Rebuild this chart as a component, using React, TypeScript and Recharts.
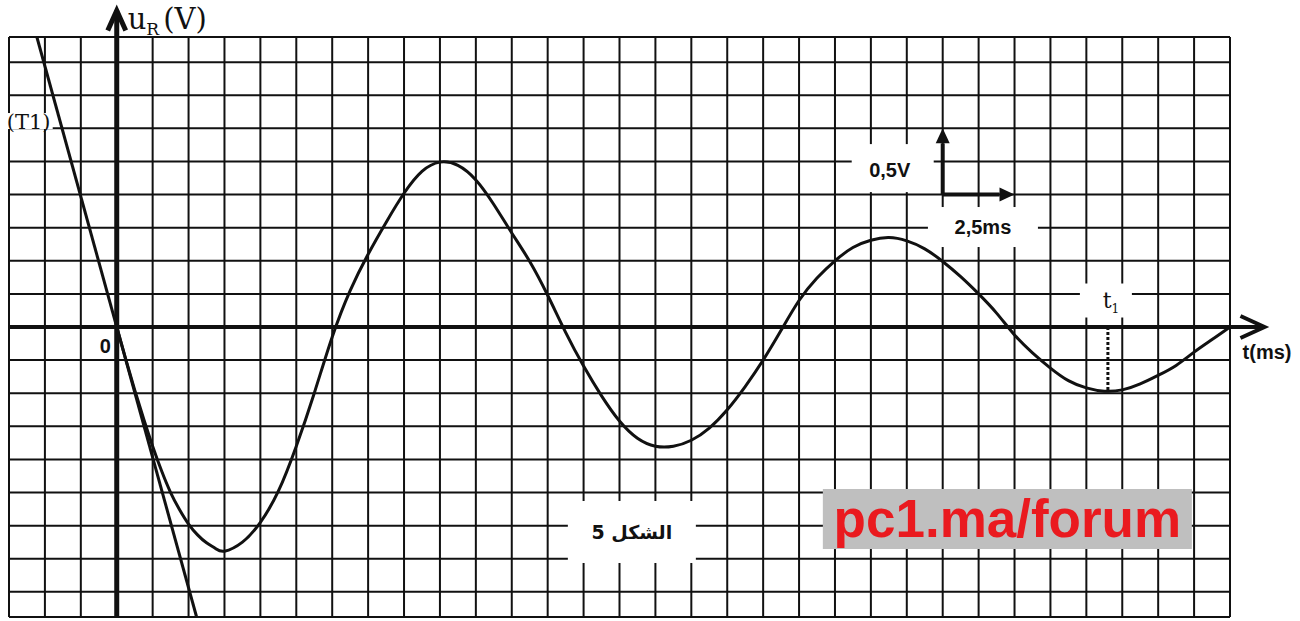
import React from "react";
import {
  ComposedChart,
  Line,
  XAxis,
  YAxis,
  ReferenceLine,
  ReferenceDot,
} from "recharts";

// u_R(t) (t in ms, u in V)
const T_MS = [
  0, 0.313, 0.625, 0.938, 1.25, 1.563, 1.875, 2.188, 2.5, 2.813, 3.125, 3.438, 3.75, 4.375,
  5, 5.625, 6.25, 6.875, 7.5, 8.125, 8.75, 9.375, 10, 10.625, 11.25, 11.875, 12.5, 13.125,
  13.75, 14.375, 15, 15.625, 16.25, 16.875, 17.5, 18.125, 18.75, 19.375, 20, 20.625, 21.25,
  21.875, 22.5, 23.125, 23.75, 24.375, 25, 25.625, 26.25, 26.875, 27.5, 28.125, 28.75,
  29.375, 30, 30.625, 31.25, 31.875, 32.5, 33.125, 33.75, 34.375, 35, 35.625, 36.25, 36.875,
  37.5, 38.125, 38.75,
];
const U_R = [
  0, -0.243, -0.475, -0.695, -0.9, -1.088, -1.25, -1.38, -1.488, -1.57, -1.63, -1.673,
  -1.693, -1.625, -1.475, -1.24, -0.9, -0.5, -0.075, 0.275, 0.55, 0.79, 1.01, 1.175, 1.245,
  1.22, 1.11, 0.925, 0.71, 0.495, 0.24, -0.04, -0.295, -0.52, -0.71, -0.84, -0.9, -0.9,
  -0.855, -0.763, -0.625, -0.45, -0.25, -0.025, 0.2, 0.37, 0.5, 0.6, 0.655, 0.675, 0.65,
  0.59, 0.495, 0.38, 0.25, 0.105, -0.06, -0.195, -0.31, -0.405, -0.46, -0.485, -0.475, -0.43,
  -0.365, -0.29, -0.19, -0.095, 0,
];

// tangent (T1) at the origin, clipped by the paper
const TANGENT_T = [-2.78, 2.78];
const TANGENT_U = [2.19, -2.19];

// t1 marker
const T1_MS = 34.5;
const U_AT_T1 = -0.485;

// scale indicator: 1 arrow = 0.5 V / 2.5 ms
const SCALE_ORIGIN = { t: 28.75, u: 1.0 };
const SCALE_V = 0.5;
const SCALE_MS = 2.5;

// paper: 1 square = 1.25 ms x 0.25 V
const T_MIN = -3.75;
const T_MAX = 38.75;
const U_LIM = 2.19;
const X_GRID = Array.from({ length: 35 }, (_, i) => T_MIN + 1.25 * i);
const Y_GRID = [-U_LIM, ...Array.from({ length: 17 }, (_, i) => -2 + 0.25 * i), U_LIM];

const curve = T_MS.map((t, i) => ({ t, u: U_R[i] }));
const tangent = TANGENT_T.map((t, i) => ({ t, u: TANGENT_U[i] }));

const SANS = "'Liberation Sans', Arial, sans-serif";
const SERIF = "'DejaVu Serif', 'Liberation Serif', serif";
const ARABIC = "'DejaVu Sans', 'Liberation Sans', sans-serif";
const INK = "#111";

const arrowShape =
  (kind: "chevron" | "filled", len: number, half: number) => (p: any) => {
    const { x1, y1, x2, y2 } = p;
    const a = Math.atan2(y2 - y1, x2 - x1);
    const bx = x2 - len * Math.cos(a);
    const by = y2 - len * Math.sin(a);
    const nx = -Math.sin(a) * half;
    const ny = Math.cos(a) * half;
    const sw = p.strokeWidth;
    if (kind === "filled") {
      return (
        <g>
          <line x1={x1} y1={y1} x2={bx} y2={by} stroke={INK} strokeWidth={sw} />
          <polygon points={`${x2},${y2} ${bx + nx},${by + ny} ${bx - nx},${by - ny}`} fill={INK} />
        </g>
      );
    }
    return (
      <g>
        <line x1={x1} y1={y1} x2={x2} y2={y2} stroke={INK} strokeWidth={sw} />
        <polyline
          points={`${bx + nx},${by + ny} ${x2},${y2} ${bx - nx},${by - ny}`}
          fill="none"
          stroke={INK}
          strokeWidth={sw}
        />
      </g>
    );
  };

const boxed =
  (w: number, h: number, fill: string, content: (cx: number, cy: number) => React.ReactNode) =>
  (p: any) => (
    <g>
      {w > 0 && <rect x={p.cx - w / 2} y={p.cy - h / 2} width={w} height={h} fill={fill} />}
      {content(p.cx, p.cy)}
    </g>
  );

export default function App() {
  return (
    <div style={{ position: "absolute", left: 0, top: 0, width: 1300, height: 621, background: "#fff" }}>
      <ComposedChart width={1300} height={621} margin={{ top: 37, right: 70, bottom: 4, left: 9 }}>
        <XAxis
          dataKey="t"
          type="number"
          domain={[T_MIN, T_MAX]}
          tick={false}
          tickLine={false}
          axisLine={false}
          height={0}
        />
        <YAxis
          type="number"
          domain={[-U_LIM, U_LIM]}
          tick={false}
          tickLine={false}
          axisLine={false}
          width={0}
        />

        {/* graph paper */}
        {X_GRID.map((v) => (
          <ReferenceLine key={`gx${v}`} x={v} stroke={INK} strokeWidth={2} />
        ))}
        {Y_GRID.map((v) => (
          <ReferenceLine key={`gy${v}`} y={v} stroke={INK} strokeWidth={2} />
        ))}

        {/* axes */}
        <ReferenceLine
          segment={[{ x: T_MIN, y: 0 }, { x: 39.95, y: 0 }]}
          ifOverflow="visible"
          stroke={INK}
          strokeWidth={4}
          shape={arrowShape("chevron", 24, 11)}
        />
        <ReferenceLine
          segment={[{ x: 0, y: -U_LIM }, { x: 0, y: 2.39 }]}
          ifOverflow="visible"
          stroke={INK}
          strokeWidth={5}
          shape={arrowShape("chevron", 20, 9)}
        />

        {/* scale arrows */}
        <ReferenceLine
          segment={[
            { x: SCALE_ORIGIN.t, y: SCALE_ORIGIN.u },
            { x: SCALE_ORIGIN.t, y: SCALE_ORIGIN.u + SCALE_V },
          ]}
          ifOverflow="visible"
          stroke={INK}
          strokeWidth={4}
          shape={arrowShape("filled", 15, 7)}
        />
        <ReferenceLine
          segment={[
            { x: SCALE_ORIGIN.t, y: SCALE_ORIGIN.u },
            { x: SCALE_ORIGIN.t + SCALE_MS, y: SCALE_ORIGIN.u },
          ]}
          ifOverflow="visible"
          stroke={INK}
          strokeWidth={4}
          shape={arrowShape("filled", 15, 7)}
        />

        {/* labels */}
        <ReferenceDot
          x={0.38}
          y={2.25}
          ifOverflow="visible"
          shape={boxed(0, 0, "#fff", (x, y) => (
            <text x={x} y={y} fontFamily={SERIF} fill={INK}>
              <tspan fontSize={29}>u</tspan>
              <tspan fontSize={17} dy={6}>R</tspan>
              <tspan fontSize={29} dy={-6} dx={4}>(V)</tspan>
            </text>
          ))}
        />
        <ReferenceDot
          x={-3.83}
          y={1.495}
          ifOverflow="visible"
          shape={boxed(0, 0, "#fff", (x, y) => (
            <g>
              <rect x={x - 1} y={y - 16} width={47} height={16} fill="#fff" />
              <text x={x} y={y} fontFamily={SERIF} fontSize={21} fill={INK}>
                (T1)
              </text>
            </g>
          ))}
        />
        <ReferenceDot
          x={-0.4}
          y={-0.14}
          ifOverflow="visible"
          shape={boxed(0, 0, "#fff", (x, y) => (
            <text x={x} y={y + 7} textAnchor="middle" fontFamily={SANS} fontWeight="bold" fontSize={20} fill={INK}>
              0
            </text>
          ))}
        />
        <ReferenceDot
          x={40.04}
          y={-0.19}
          ifOverflow="visible"
          shape={boxed(0, 0, "#fff", (x, y) => (
            <text x={x} y={y + 7} textAnchor="middle" fontFamily={SANS} fontWeight="bold" fontSize={20} fill={INK}>
              t(ms)
            </text>
          ))}
        />
        <ReferenceDot
          x={34.43}
          y={0.2}
          ifOverflow="visible"
          shape={boxed(52, 34, "#fff", (x, y) => (
            <text x={x + 5} y={y + 7} textAnchor="middle" fontFamily={SERIF} fill={INK}>
              <tspan fontSize={22}>t</tspan>
              <tspan fontSize={12} dy={5}>1</tspan>
            </text>
          ))}
        />
        <ReferenceDot
          x={27.01}
          y={1.2}
          ifOverflow="visible"
          shape={boxed(82, 48, "#fff", (x, y) => (
            <text x={x - 3} y={y + 9} textAnchor="middle" fontFamily={SANS} fontWeight="bold" fontSize={20} fill={INK}>
              0,5V
            </text>
          ))}
        />
        <ReferenceDot
          x={30.15}
          y={0.755}
          ifOverflow="visible"
          shape={boxed(110, 40, "#fff", (x, y) => (
            <text x={x} y={y + 7} textAnchor="middle" fontFamily={SANS} fontWeight="bold" fontSize={20} fill={INK}>
              2,5ms
            </text>
          ))}
        />
        <ReferenceDot
          x={17.93}
          y={-1.548}
          ifOverflow="visible"
          shape={boxed(128, 62, "#fff", (x, y) => (
            <text x={x} y={y + 7} textAnchor="middle" fontFamily={ARABIC} fontWeight="bold" fontSize={19} fill={INK}>
              الشكل 5
            </text>
          ))}
        />
        <ReferenceDot
          x={31.0}
          y={-1.45}
          ifOverflow="visible"
          shape={boxed(369, 60, "#bfbfbf", (x, y) => (
            <text x={x} y={y + 18} textAnchor="middle" fontFamily={SANS} fontWeight="bold" fontSize={53} fill="#ea1a1f">
              pc1.ma/forum
            </text>
          ))}
        />

        {/* t1 marker */}
        <ReferenceLine
          segment={[{ x: T1_MS, y: 0 }, { x: T1_MS, y: U_AT_T1 }]}
          stroke={INK}
          strokeWidth={3}
          strokeDasharray="3 2"
        />

        <Line
          data={tangent}
          dataKey="u"
          type="linear"
          stroke={INK}
          strokeWidth={3}
          dot={false}
          isAnimationActive={false}
        />
        <Line
          data={curve}
          dataKey="u"
          type="natural"
          stroke={INK}
          strokeWidth={3}
          dot={false}
          isAnimationActive={false}
        />
      </ComposedChart>
    </div>
  );
}
